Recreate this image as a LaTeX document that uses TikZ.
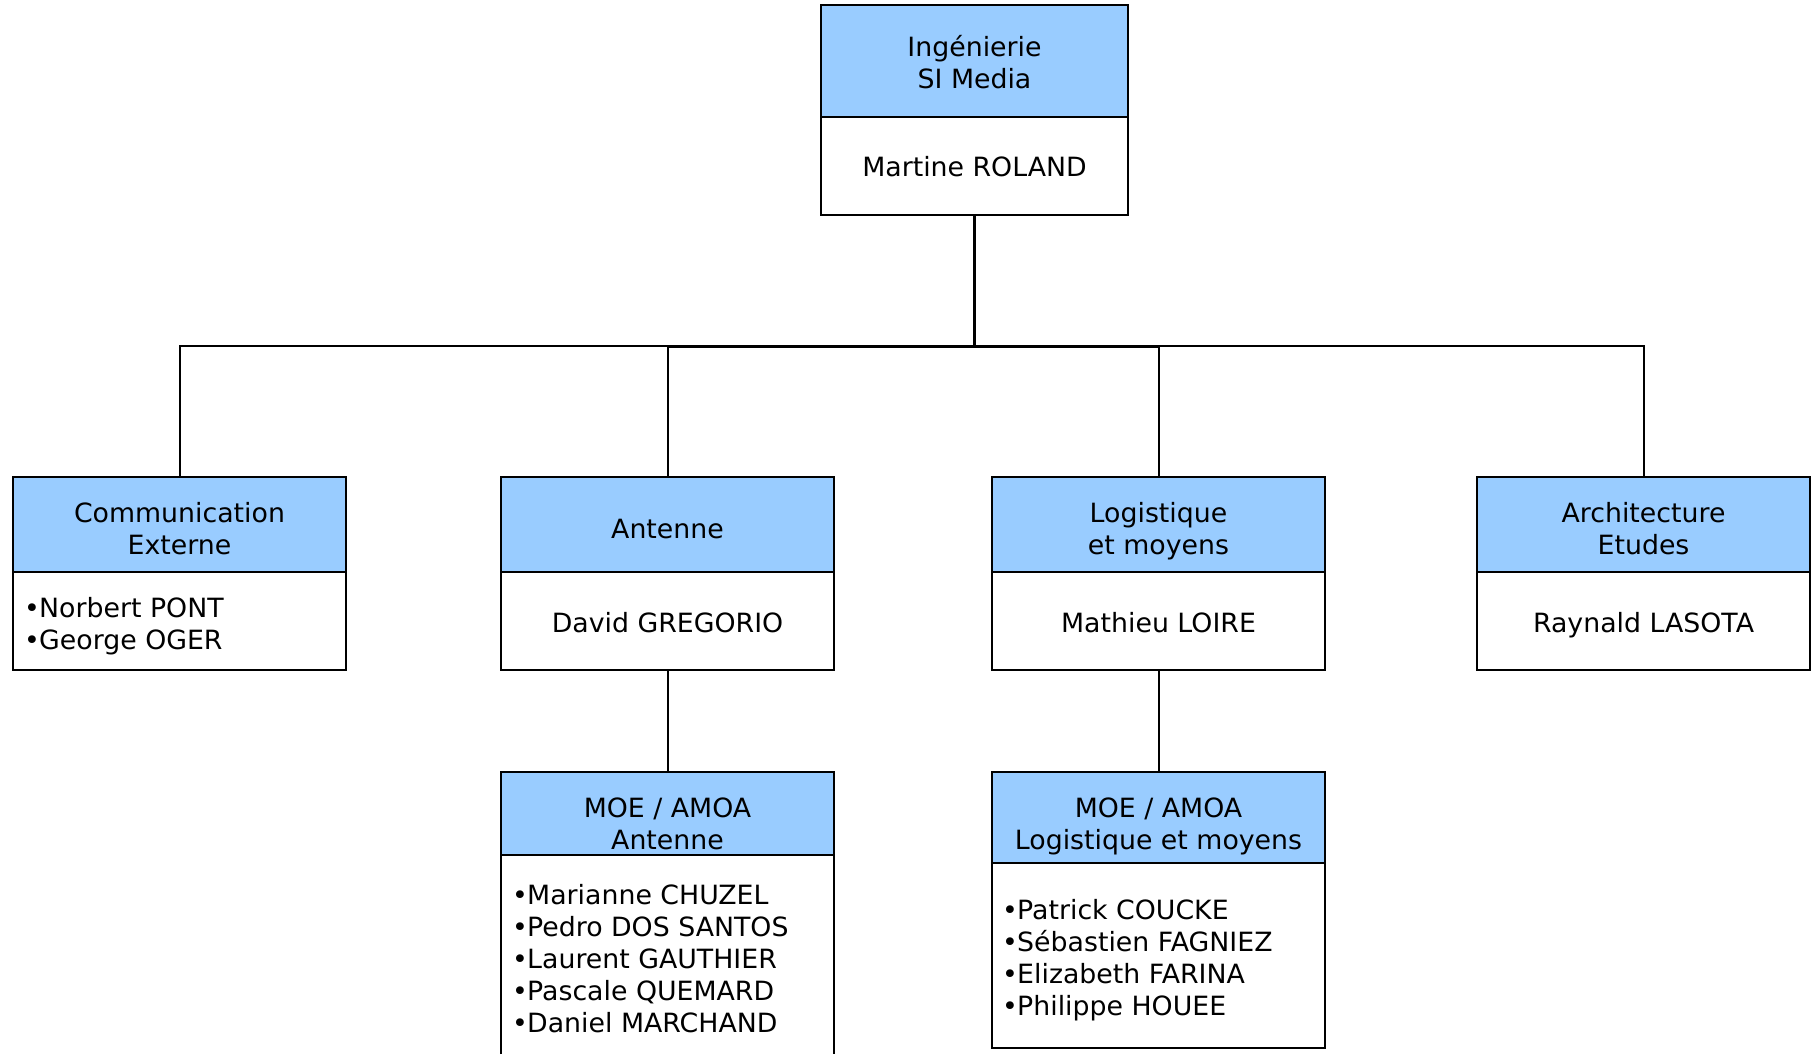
\documentclass[tikz,border=0pt]{standalone}
\usepackage{fontspec}
\setmainfont{DejaVu Sans}[FakeStretch=1.01]
\definecolor{hdr}{HTML}{99CCFF}
\newcommand\bul{\makebox[15pt][l]{•}}
\begin{document}
\begin{tikzpicture}[x=1pt,y=-1pt,
  hdrbox/.style={draw=black, fill=hdr, line width=1.5pt, inner sep=0pt, outer sep=0pt, anchor=north west},
  bodybox/.style={draw=black, fill=white, line width=1.5pt, inner sep=0pt, outer sep=0pt, anchor=north west},
  txt/.style={anchor=base, inner sep=0pt, font=\fontsize{26.5}{32}\selectfont},
  ltxt/.style={anchor=base west, inner sep=0pt, font=\fontsize{26.5}{32}\selectfont},
  conn/.style={line width=2pt, draw=black},
  thickconn/.style={line width=3pt, draw=black}]
\useasboundingbox (0,0) rectangle (1811,1054);
\fill[white] (0,0) rectangle (1811,1054);

% top box
\node[hdrbox, minimum width=307pt, minimum height=112pt] (h0) at (821,5) {};
\node[bodybox, minimum width=307pt, minimum height=98pt] (b0) at (821,117) {};
\node[txt] (t0a) at (974.5,57) {Ingénierie};
\node[txt] (t0b) at (974.5,89) {SI Media};
\node[txt] (t0c) at (974.5,176) {Martine ROLAND};

% level 2 boxes
\node[hdrbox, minimum width=333pt, minimum height=95pt] (h1) at (13,477) {};
\node[bodybox, minimum width=333pt, minimum height=98pt] (b1) at (13,572) {};
\node[hdrbox, minimum width=333pt, minimum height=95pt] (h2) at (501,477) {};
\node[bodybox, minimum width=333pt, minimum height=98pt] (b2) at (501,572) {};
\node[hdrbox, minimum width=333pt, minimum height=95pt] (h3) at (992,477) {};
\node[bodybox, minimum width=333pt, minimum height=98pt] (b3) at (992,572) {};
\node[hdrbox, minimum width=333pt, minimum height=95pt] (h4) at (1477,477) {};
\node[bodybox, minimum width=333pt, minimum height=98pt] (b4) at (1477,572) {};

\node[txt] (t1a) at (179.5,522) {Communication};
\node[txt] (t1b) at (179.5,554) {Externe};
\node[ltxt] (t1c) at (24,617) {\bul Norbert PONT};
\node[ltxt] (t1d) at (24,649) {\bul George OGER};

\node[txt] (t2a) at (667.5,538) {Antenne};
\node[txt] (t2b) at (667.5,632) {David GREGORIO};

\node[txt] (t3a) at (1158.5,522) {Logistique};
\node[txt] (t3b) at (1158.5,554) {et moyens};
\node[txt] (t3c) at (1158.5,632) {Mathieu LOIRE};

\node[txt] (t4a) at (1643.5,522) {Architecture};
\node[txt] (t4b) at (1643.5,554) {Etudes};
\node[txt] (t4c) at (1643.5,632) {Raynald LASOTA};

% level 3 boxes
\node[hdrbox, minimum width=333pt, minimum height=83pt] (h5) at (501,772) {};
\fill[white] (501,855) rectangle (834,1054);
\draw[line width=1.5pt] (501,1054) -- (501,855) -- (834,855) -- (834,1054);
\coordinate (b5) at (667.5,855);
\node[hdrbox, minimum width=333pt, minimum height=91pt] (h6) at (992,772) {};
\node[bodybox, minimum width=333pt, minimum height=185pt] (b6) at (992,863) {};

\node[txt] (t5a) at (667.5,817) {MOE / AMOA};
\node[txt] (t5b) at (667.5,849) {Antenne};
\node[ltxt] (t5c) at (512,904) {\bul Marianne CHUZEL};
\node[ltxt] (t5d) at (512,936) {\bul Pedro DOS SANTOS};
\node[ltxt] (t5e) at (512,968) {\bul Laurent GAUTHIER};
\node[ltxt] (t5f) at (512,1000) {\bul Pascale QUEMARD};
\node[ltxt] (t5g) at (512,1032) {\bul Daniel MARCHAND};

\node[txt] (t6a) at (1158.5,817) {MOE / AMOA};
\node[txt] (t6b) at (1158.5,849) {Logistique et moyens};
\node[ltxt] (t6c) at (1002,919) {\bul Patrick COUCKE};
\node[ltxt] (t6d) at (1002,951) {\bul Sébastien FAGNIEZ};
\node[ltxt] (t6e) at (1002,983) {\bul Elizabeth FARINA};
\node[ltxt] (t6f) at (1002,1015) {\bul Philippe HOUEE};

% connectors
\coordinate (hub) at (974.5,346);
\draw[thickconn] (b0.south) -- (hub);
\draw[conn] (hub) -| (h1.north);
\draw[conn] (hub) -| (h4.north);
\draw[conn] (hub) -| (h2.north);
\draw[conn] (hub) -| (h3.north);
\draw[thickconn] (h2.north |- hub) -- (h3.north |- hub);
\draw[conn] (b2.south) -- (h5.north);
\draw[conn] (b3.south) -- (h6.north);
\end{tikzpicture}
\end{document}
